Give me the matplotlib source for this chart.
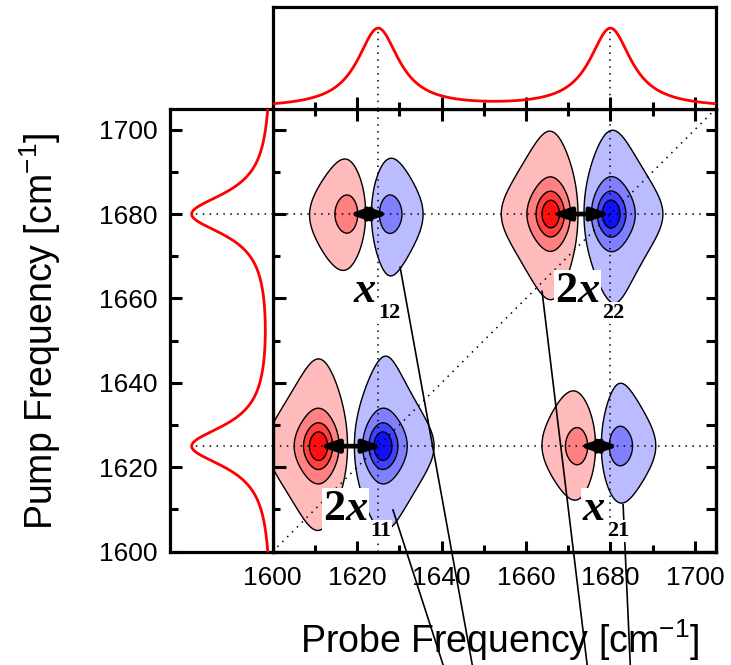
import numpy as np
import matplotlib
matplotlib.use("Agg")
import matplotlib.pyplot as plt
from matplotlib.lines import Line2D
from matplotlib.ticker import MultipleLocator

plt.rcParams["font.family"] = ["Liberation Sans", "DejaVu Sans"]
plt.rcParams["mathtext.fontset"] = "custom"
plt.rcParams["mathtext.rm"] = "Liberation Sans"
plt.rcParams["mathtext.it"] = "Liberation Sans:italic"
plt.rcParams["mathtext.bf"] = "Liberation Sans:bold"

# ---- data -------------------------------------------------------------
freq_limits = (1600.0, 1705.0)

# linear (1D) absorption bands of the two amide-I modes
band_centers = [1625.0, 1680.0]
band_heights = [0.78, 0.78]
band_hwhm = 6.0

# 2D-IR peaks: probe position, pump position, signed amplitude
peak_probe = [1611.0, 1626.0, 1666.0, 1680.0, 1618.0, 1627.5, 1672.5, 1682.0]
peak_pump = [1625.0, 1625.0, 1680.0, 1680.0, 1680.0, 1680.0, 1625.0, 1625.0]
peak_amp = [1.0, -1.0, 1.0, -1.0, 0.55, -0.55, 0.55, -0.55]
peak_width_probe = 4.2
peak_width_pump = 6.4
peak_coupling = 0.35   # cross term between probe and pump broadening

contour_levels = [0.08, 0.30, 0.52, 0.72]
red_fills = ["#FFBBBB", "#FF8080", "#FF4040", "#FF1010"]
blue_fills = ["#BBBBFF", "#8080FF", "#4040FF", "#1010FF"]

# anharmonic shifts: arrow between the two lobes of each pair
shift_pairs = [(0, 1), (2, 3), (4, 5), (6, 7)]
shift_prefix = ["2", "2", "", ""]
shift_index = ["11", "22", "12", "21"]
shift_label_pos = [(1611.9, 1607.5), (1666.9, 1659.1), (1619.1, 1659.1), (1673.3, 1607.5)]

# leader lines running off the bottom of the panel
leader_start = [(1628.5, 1609.9), (1630.2, 1667.4), (1663.8, 1661.7), (1683.0, 1611.1)]
leader_end = [(1640.4, 1573.1), (1647.3, 1573.1), (1674.5, 1573.1), (1684.7, 1573.1)]

major_step = 20
minor_step = 10


def lorentz(x, x0, w):
    return 1.0 / (1.0 + ((x - x0) / w) ** 2)


def peak2d(x, y, x0, y0, wx, wy, c):
    u2 = ((x - x0) / wx) ** 2
    v2 = ((y - y0) / wy) ** 2
    return 1.0 / (1.0 + u2 + v2 + c * u2 * v2)


# ---- figure layout ----------------------------------------------------
fig = plt.figure(figsize=(7.31, 6.65), dpi=100)
ax = fig.add_axes([0.3729, 0.1704, 0.6066, 0.6664])
ax_top = fig.add_axes([0.3729, 0.8368, 0.6066, 0.1532], sharex=ax)
ax_left = fig.add_axes([0.2326, 0.1704, 0.1403, 0.6664], sharey=ax)

spine_lw = 2.3
for a in (ax, ax_top, ax_left):
    for s in a.spines.values():
        s.set_linewidth(spine_lw)
ax_top.spines["bottom"].set_visible(False)
ax_left.spines["right"].set_visible(False)

ax.set_xlim(freq_limits)
ax.set_ylim(freq_limits)
for axis in (ax.xaxis, ax.yaxis):
    axis.set_major_locator(MultipleLocator(major_step))
    axis.set_minor_locator(MultipleLocator(minor_step))

# ---- 2D spectrum ------------------------------------------------------
grid = np.linspace(1590.0, 1715.0, 501)
P, Q = np.meshgrid(grid, grid)
S = np.zeros_like(P)
for px, py, amp in zip(peak_probe, peak_pump, peak_amp):
    S += amp * peak2d(P, Q, px, py, peak_width_probe, peak_width_pump,
                      peak_coupling)

neg_levels = [-l for l in contour_levels[::-1]]
fill_levels = [-100.0] + neg_levels + contour_levels + [100.0]
fill_colors = blue_fills[::-1] + [(1, 1, 1, 0)] + red_fills
ax.contourf(P, Q, S, levels=fill_levels, colors=fill_colors, zorder=1)
ax.contour(P, Q, S, levels=neg_levels + contour_levels, colors="k",
           linewidths=1.0, linestyles="solid", zorder=2)

# guide lines
dot = dict(color="k", lw=1.1, ls=(0, (1, 3.5)), zorder=3)
for c in band_centers:
    ax.axhline(c, **dot)
    ax.axvline(c, **dot)
ax.plot(freq_limits, freq_limits, **dot)

# anharmonic shift arrows
for a, b in shift_pairs:
    ax.annotate("", xy=(peak_probe[b], peak_pump[b]),
                xytext=(peak_probe[a], peak_pump[a]),
                arrowprops=dict(arrowstyle="<|-|>,head_length=1.1,head_width=0.38",
                                color="k", lw=3.4, shrinkA=0, shrinkB=0),
                zorder=4)

# leader lines
for (x0, y0), (x1, y1) in zip(leader_start, leader_end):
    ax.add_line(Line2D([x0, x1], [y0, y1], color="k", lw=1.2,
                       clip_on=False, zorder=5))

# labels of the shifts
box = dict(fc="white", ec="none", pad=0.8)
serif = "Liberation Serif"
for (lx, ly), pre, sub in zip(shift_label_pos, shift_prefix, shift_index):
    if pre:
        t1 = ax.text(lx, ly, pre, fontsize=32, family=serif, weight="bold",
                     ha="left", va="baseline", bbox=box, zorder=6)
        tx = ax.annotate("x", xy=(1, 0), xycoords=t1, xytext=(0, 0),
                         textcoords="offset points", fontsize=32, family=serif,
                         weight="bold", style="italic", ha="left", va="bottom",
                         bbox=box, zorder=6)
    else:
        tx = ax.text(lx, ly, "x", fontsize=32, family=serif, weight="bold",
                     style="italic", ha="left", va="baseline", bbox=box, zorder=6)
    ax.annotate(sub, xy=(1, 0), xycoords=tx, xytext=(2, -5),
                textcoords="offset points", fontsize=16, family=serif,
                weight="bold", ha="left", va="baseline", bbox=box, zorder=6)

# ---- 1D spectra -------------------------------------------------------
freq = np.linspace(freq_limits[0], freq_limits[1], 600)
spec = np.zeros_like(freq)
for c, h in zip(band_centers, band_heights):
    spec += h * lorentz(freq, c, band_hwhm)
peak_vals = [sum(h * lorentz(c, cc, band_hwhm) for cc, h in zip(band_centers, band_heights))
             for c in band_centers]

ax_top.plot(freq, spec, color="#FF0000", lw=2.0, zorder=3)
ax_top.vlines(band_centers, 0, peak_vals, **dot)
ax_top.set_ylim(0, 1)
ax_top.tick_params(axis="y", left=False, labelleft=False)

ax_left.plot(spec, freq, color="#FF0000", lw=2.0, zorder=3)
ax_left.hlines(band_centers, 0, peak_vals, **dot)
ax_left.set_xlim(1, 0)
ax_left.tick_params(axis="x", bottom=False, labelbottom=False)

# ---- ticks ------------------------------------------------------------
tw = 2.2
ax.tick_params(axis="x", which="major", direction="in", length=8, width=tw,
               top=False, labelsize=19, pad=10)
ax.tick_params(axis="x", which="minor", direction="in", length=5, width=tw, top=False)
ax.tick_params(axis="y", which="major", direction="inout", length=18, width=tw,
               right=False, labelleft=False)
ax.tick_params(axis="y", which="minor", direction="inout", length=10, width=tw,
               right=False)

ax_top.tick_params(axis="x", which="major", direction="inout", length=17, width=tw,
                   labelbottom=False)
ax_top.tick_params(axis="x", which="minor", direction="inout", length=9.5, width=tw)

ax_left.tick_params(axis="y", which="major", direction="in", length=8.6, width=tw,
                    labelleft=True, labelsize=19, pad=9)
ax_left.tick_params(axis="y", which="minor", direction="in", length=6, width=tw)

ax_r = ax.twinx()
ax_r.set_ylim(freq_limits)
ax_r.yaxis.set_major_locator(MultipleLocator(major_step))
ax_r.yaxis.set_minor_locator(MultipleLocator(minor_step))
ax_r.tick_params(axis="y", which="both", direction="in", length=7, width=tw,
                 labelright=False)
for s in ax_r.spines.values():
    s.set_linewidth(spine_lw)

# ---- axis titles ------------------------------------------------------
fig.text(40 / 731, 0.502, "Pump Frequency [cm$^{-1}$]", rotation=90,
         fontsize=27, ha="center", va="center")
fig.text(500 / 731, 0.018, "Probe Frequency [cm$^{-1}$]",
         fontsize=27, ha="center", va="baseline")

fig.savefig("out.png", dpi=100)
